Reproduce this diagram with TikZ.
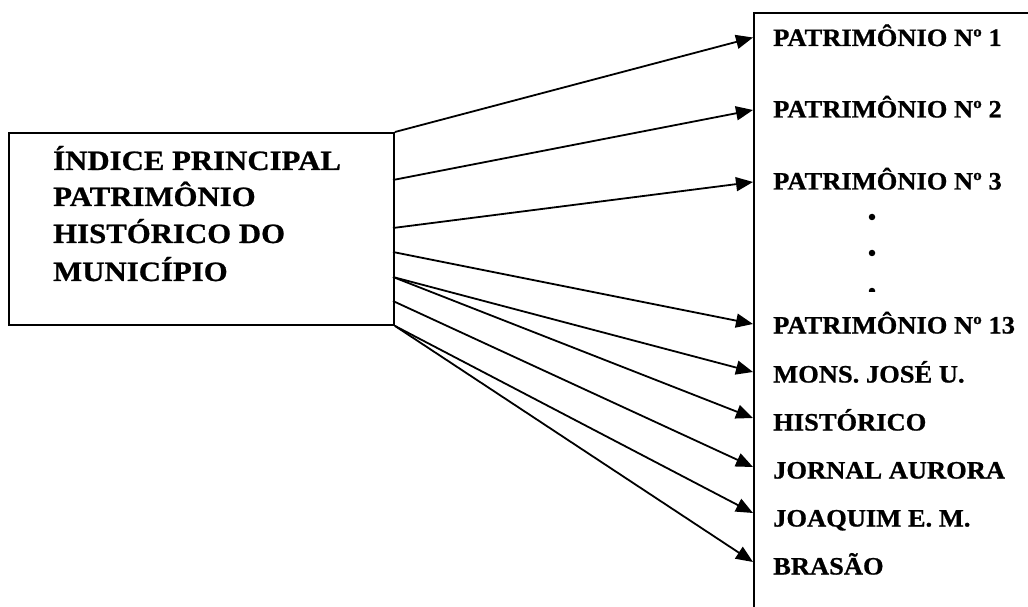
\documentclass[tikz,border=0pt]{standalone}
\usepackage{fontspec}
\setmainfont{Liberation Serif}
\newfontfamily\lblfont[FakeStretch=1.06,FakeBold=0.8]{Liberation Serif}
\newfontfamily\boxfont[FakeStretch=1.1,FakeBold=0.8]{Liberation Serif}
\usetikzlibrary{arrows.meta}
\begin{document}
\begin{tikzpicture}[x=1bp,y=-1bp,
  lbl/.style={anchor=west, inner xsep=20bp, inner ysep=0pt, text height=17bp, text depth=0pt,
    font=\lblfont\fontsize{25bp}{29bp}\selectfont\bfseries},
  ttl/.style={anchor=base west, inner sep=0pt,
    font=\boxfont\fontsize{28bp}{33bp}\selectfont\bfseries},
  conn/.style={line width=1.8bp, -{Triangle[length=17bp,width=14bp]}},
  frame/.style={draw, line width=1.9bp},
  dotmark/.style={fill=black, circle, inner sep=0pt, minimum size=6.5bp}]
\useasboundingbox (0,0) rectangle (1028,607);
\begin{scope}
\clip (0,0) rectangle (1028,607);
% left box
\node[frame, anchor=north west, minimum width=385bp, minimum height=192bp, inner sep=0pt] (main) at (8,132) {};
% right list frame
\node[frame, anchor=north west, minimum width=320bp, minimum height=640bp, inner sep=0pt] (list) at (753,12) {};
% title text
\node[ttl] (t1) at (53,170) {ÍNDICE PRINCIPAL};
\node[ttl] (t2) at (53,206) {PATRIMÔNIO};
\node[ttl] (t3) at (53,243) {HISTÓRICO DO};
\node[ttl] (t4) at (53,281) {MUNICÍPIO};
% labels
\node[lbl] (n1) at (753,37.5) {PATRIMÔNIO Nº 1};
\node[lbl] (n2) at (753,109) {PATRIMÔNIO Nº 2};
\node[lbl] (n3) at (753,181) {PATRIMÔNIO Nº 3};
\node[lbl] (n13) at (753,325) {PATRIMÔNIO Nº 13};
\node[lbl] (mons) at (753,374) {MONS. JOSÉ U.};
\node[lbl] (hist) at (753,422) {HISTÓRICO};
\node[lbl] (jorn) at (753,470) {JORNAL AURORA};
\node[lbl] (joaq) at (753,518) {JOAQUIM E. M.};
\node[lbl] (bras) at (753,566) {BRASÃO};
% dots
\node[dotmark] (d1) at (872,217) {};
\node[dotmark] (d2) at (872,253) {};
\begin{scope}
\clip (860,280) rectangle (885,291);
\node[dotmark] (d3) at (872,291) {};
\end{scope}
% start points
\coordinate (s1) at (main.north east);
\coordinate (s2) at (393,180);
\coordinate (s3) at (393,228);
\coordinate (s4) at (393,252);
\coordinate (s5) at (393,277);
\coordinate (s6) at (393,301);
\coordinate (s7) at (main.south east);
% connectors
\draw[conn] (s1) -- (n1.west);
\draw[conn] (s2) -- ([yshift=-1bp]n2.west);
\draw[conn] (s3) -- ([yshift=-1bp]n3.west);
\draw[conn] (s4) -- ([yshift=1bp]n13.west);
\draw[conn] (s5) -- ([yshift=2bp]mons.west);
\draw[conn] (s5) -- ([yshift=4bp]hist.west);
\draw[conn] (s6) -- ([yshift=3bp]jorn.west);
\draw[conn] (s7) -- ([yshift=5bp]joaq.west);
\draw[conn] (s7) -- ([yshift=4bp]bras.west);
\end{scope}
\end{tikzpicture}
\end{document}
